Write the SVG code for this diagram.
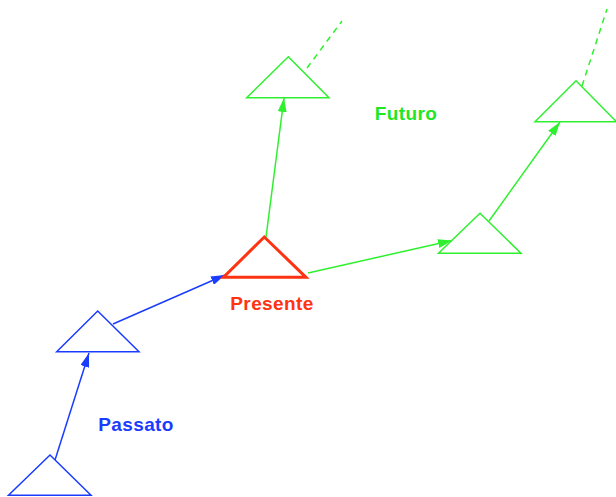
<svg xmlns="http://www.w3.org/2000/svg" width="616" height="497" viewBox="0 0 616 497">
  <style>
    .tri { fill: none; stroke-width: 1.5; stroke-linejoin: miter; }
    .blue { stroke: #1a3cff; }
    .green { stroke: #2ef02e; }
    .red { stroke: #ff3311; stroke-width: 3; }
    .edge { fill: none; stroke-width: 1.5; }
    .dash { stroke-dasharray: 6 5; }
    .lbl { font-family: "Liberation Sans", Arial, sans-serif; font-weight: bold; font-size: 19px; letter-spacing: 0.4px; text-anchor: middle; }
  </style>
  <defs>
    <marker id="ahBlue" viewBox="0 0 14 9" refX="14" refY="4.5" markerWidth="14" markerHeight="9" markerUnits="userSpaceOnUse" orient="auto">
      <path d="M0,0 L14,4.5 L0,9 Z" fill="#1a3cff"/>
    </marker>
    <marker id="ahGreen" viewBox="0 0 14 9" refX="14" refY="4.5" markerWidth="14" markerHeight="9" markerUnits="userSpaceOnUse" orient="auto">
      <path d="M0,0 L14,4.5 L0,9 Z" fill="#2ef02e"/>
    </marker>
  </defs>

  <!-- connectors -->
  <g id="connectors">
    <line class="edge blue" x1="55" y1="460" x2="89" y2="353" marker-end="url(#ahBlue)"/>
    <line class="edge blue" x1="113" y1="324" x2="225" y2="275" marker-end="url(#ahBlue)"/>
    <line class="edge green" x1="266" y1="237" x2="284" y2="98" marker-end="url(#ahGreen)"/>
    <line class="edge green" x1="308" y1="273" x2="452" y2="240.5" marker-end="url(#ahGreen)"/>
    <line class="edge green" x1="489" y1="221" x2="560" y2="122" marker-end="url(#ahGreen)"/>
    <line class="edge green dash" x1="307" y1="68" x2="342" y2="21"/>
    <line class="edge green dash" x1="582" y1="86" x2="607" y2="9"/>
  </g>

  <!-- past states -->
  <g id="past-low">
    <polygon class="tri blue" points="50,455 91,495.3 8.5,495.3"/>
  </g>
  <g id="past-high">
    <polygon class="tri blue" points="97.7,311 139,351.7 56.7,351.7"/>
  </g>

  <!-- present state -->
  <g id="present">
    <polygon class="tri red" points="264.3,237 306,277.3 223.5,277.3"/>
  </g>

  <!-- future states -->
  <g id="future-top">
    <polygon class="tri green" points="288.3,56.7 329,97.7 246.7,97.7"/>
  </g>
  <g id="future-mid">
    <polygon class="tri green" points="480,213.3 521,253.3 438.5,253.3"/>
  </g>
  <g id="future-right">
    <polygon class="tri green" points="576,80.7 616.5,121.7 535,121.7"/>
  </g>

  <!-- labels -->
  <g id="labels">
    <text class="lbl" x="406" y="119.5" fill="#22e622">Futuro</text>
    <text class="lbl" x="272" y="309.5" fill="#ff3311">Presente</text>
    <text class="lbl" x="136" y="430.5" fill="#1a3cff">Passato</text>
  </g>
</svg>
